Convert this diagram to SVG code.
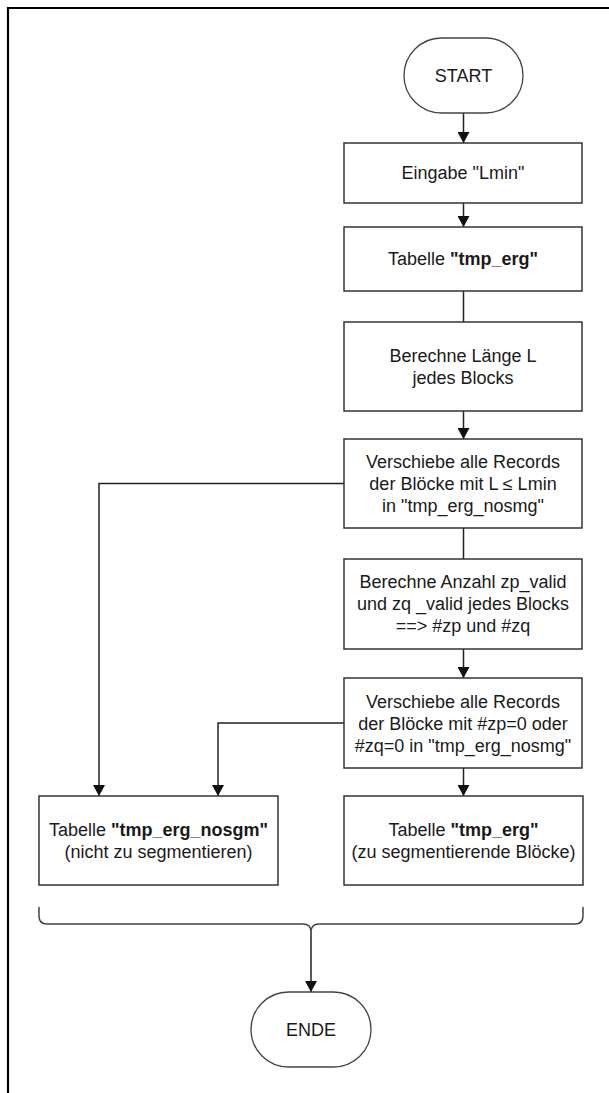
<svg xmlns="http://www.w3.org/2000/svg" width="609" height="1093" viewBox="0 0 609 1093">
  <style>
    .box { fill: #ffffff; stroke: #333333; stroke-width: 1.5; }
    .term { fill: #ffffff; stroke: #444444; stroke-width: 1.3; }
    .edge { fill: none; stroke: #222222; stroke-width: 1.5; }
    .brace { fill: none; stroke: #444444; stroke-width: 1.5; }
    text { font-family: "Liberation Sans", Arial, sans-serif; font-size: 18px; fill: #1a1a1a; text-anchor: middle; dominant-baseline: central; }
    .b { font-weight: bold; }
  </style>
  <defs>
    <marker id="arrow" markerUnits="userSpaceOnUse" markerWidth="11" markerHeight="12" refX="11" refY="6" orient="auto">
      <path d="M0,0 L11,6 L0,12 Z" fill="#111111"/>
    </marker>
  </defs>

  <rect width="609" height="1093" fill="#ffffff"/>
  <!-- outer frame (left and top edges) -->
  <path d="M8,1093 L8,8 L609,8" fill="none" stroke="#000000" stroke-width="2.2"/>

  <g id="connectors">
    <line class="edge" x1="463.5" y1="113" x2="463.5" y2="143" marker-end="url(#arrow)"/>
    <line class="edge" x1="463.5" y1="203" x2="463.5" y2="227" marker-end="url(#arrow)"/>
    <line class="edge" x1="463.5" y1="291" x2="463.5" y2="322"/>
    <line class="edge" x1="463.5" y1="411" x2="463.5" y2="439" marker-end="url(#arrow)"/>
    <line class="edge" x1="463.5" y1="528" x2="463.5" y2="559"/>
    <line class="edge" x1="463.5" y1="649" x2="463.5" y2="678" marker-end="url(#arrow)"/>
    <line class="edge" x1="463.5" y1="768" x2="463.5" y2="796" marker-end="url(#arrow)"/>
    <path class="edge" d="M344,483.5 L99,483.5 L99,796" marker-end="url(#arrow)"/>
    <path class="edge" d="M344,723 L218,723 L218,796" marker-end="url(#arrow)"/>
    <!-- curly brace joining both result tables -->
    <path class="brace" d="M39,907 L39,916 Q39,924 47,924 L303,924 Q311,924 311,932 Q311,924 319,924 L575,924 Q583,924 583,916 L583,907"/>
    <line class="edge" x1="311" y1="932" x2="311" y2="992" marker-end="url(#arrow)"/>
  </g>

  <g id="start">
    <rect class="term" x="404" y="38" width="119" height="75" rx="37.5" ry="37.5"/>
    <text x="463.5" y="75.5">START</text>
  </g>

  <g id="eingabe">
    <rect class="box" x="344" y="143" width="238" height="60"/>
    <text x="463" y="173">Eingabe "Lmin"</text>
  </g>

  <g id="tabelle-tmp-erg">
    <rect class="box" x="344" y="227" width="238" height="64"/>
    <text x="463" y="259">Tabelle <tspan class="b">"tmp_erg"</tspan></text>
  </g>

  <g id="berechne-laenge">
    <rect class="box" x="344" y="322" width="238" height="89"/>
    <text x="463" y="356">Berechne Länge L</text>
    <text x="463" y="378">jedes Blocks</text>
  </g>

  <g id="verschiebe-lmin">
    <rect class="box" x="344" y="439" width="238" height="89"/>
    <text x="463" y="462">Verschiebe alle Records</text>
    <text x="463" y="484">der Blöcke mit L ≤ Lmin</text>
    <text x="463" y="506">in "tmp_erg_nosmg"</text>
  </g>

  <g id="berechne-anzahl">
    <rect class="box" x="344" y="559" width="238" height="90"/>
    <text x="463" y="582">Berechne Anzahl zp_valid</text>
    <text x="463" y="604">und zq _valid jedes Blocks</text>
    <text x="463" y="626">==&gt; #zp und #zq</text>
  </g>

  <g id="verschiebe-zp-zq">
    <rect class="box" x="344" y="678" width="238" height="90"/>
    <text x="463" y="702">Verschiebe alle Records</text>
    <text x="463" y="724">der Blöcke mit #zp=0 oder</text>
    <text x="463" y="746">#zq=0 in "tmp_erg_nosmg"</text>
  </g>

  <g id="tabelle-nosgm">
    <rect class="box" x="39" y="796" width="239" height="89"/>
    <text x="158.5" y="830">Tabelle <tspan class="b">"tmp_erg_nosgm"</tspan></text>
    <text x="158.5" y="852">(nicht zu segmentieren)</text>
  </g>

  <g id="tabelle-erg-final">
    <rect class="box" x="344" y="796" width="239" height="89"/>
    <text x="463.5" y="830">Tabelle <tspan class="b">"tmp_erg"</tspan></text>
    <text x="463.5" y="852">(zu segmentierende Blöcke)</text>
  </g>

  <g id="ende">
    <rect class="term" x="251" y="992" width="120" height="75" rx="37.5" ry="37.5"/>
    <text x="311" y="1029.5">ENDE</text>
  </g>
</svg>
